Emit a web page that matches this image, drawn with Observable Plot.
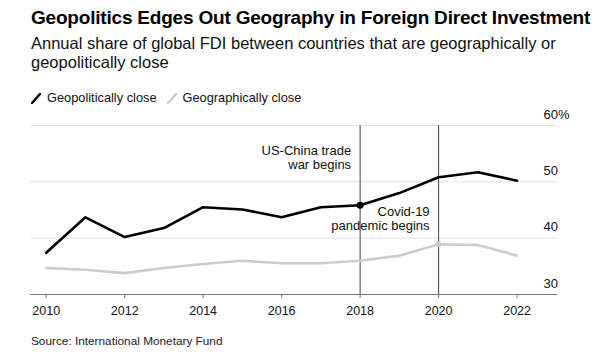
<!DOCTYPE html>
<html><head><meta charset="utf-8">
<script src="https://cdn.jsdelivr.net/npm/d3@7"></script>
<script src="https://cdn.jsdelivr.net/npm/@observablehq/plot@0.6"></script>
<style>
body{margin:0;background:#fff;font-family:"Liberation Sans",Arial,sans-serif;color:#000;width:602px;height:356px;overflow:hidden;position:relative}
#title{position:absolute;left:31px;top:7px;font-weight:bold;font-size:19px;line-height:22px;white-space:nowrap;letter-spacing:-0.2px;color:#000}
#subtitle{position:absolute;left:31px;top:34px;font-size:16.5px;line-height:19px;width:560px;color:#111}
#legend{position:absolute;left:31px;top:90px;font-size:12.8px;line-height:16px;display:flex;align-items:center;color:#111}
#legend svg{margin-right:6px}
#legend .item{display:flex;align-items:center;margin-right:10px}
#chart{position:absolute;left:0;top:105px}
#source{position:absolute;left:31px;top:334px;font-size:11.8px;color:#222}
</style></head>
<body>
<div id="title">Geopolitics Edges Out Geography in Foreign Direct Investment</div>
<div id="subtitle">Annual share of global FDI between countries that are geographically or geopolitically close</div>
<div id="legend"></div>
<div id="chart"></div>
<div id="source">Source: International Monetary Fund</div>
<script>
const years = [2010, 2011, 2012, 2013, 2014, 2015, 2016, 2017, 2018, 2019, 2020, 2021, 2022];
const geopolitical = [37.4, 43.7, 40.2, 41.8, 45.5, 45.1, 43.7, 45.5, 45.85, 48.0, 50.8, 51.7, 50.2];
const geographical = [34.7, 34.4, 33.8, 34.7, 35.4, 36.0, 35.55, 35.55, 36.0, 36.9, 38.9, 38.8, 36.9];
const seriesNames = ["Geopolitically close", "Geographically close"];
const seriesColors = ["#000000", "#cccccc"];
const yTicks = [30, 40, 50, 60];
const xTicks = [2010, 2012, 2014, 2016, 2018, 2020, 2022];
const eventYears = [2018, 2020];
const eventLabels = ["US-China trade\nwar begins", "Covid-19\npandemic begins"];
const eventLabelValues = [54.3, 43.5];

// legend
const legend = document.getElementById("legend");
seriesNames.forEach((name, i) => {
  const item = document.createElement("div");
  item.className = "item";
  item.innerHTML = `<svg width="10" height="11"><line x1="1" y1="10" x2="9" y2="1" stroke="${seriesColors[i]}" stroke-width="2.4" stroke-linecap="round"/></svg><span>${name}</span>`;
  legend.appendChild(item);
});

const geoPol = years.map((y, i) => ({year: y, value: geopolitical[i]}));
const geoGr = years.map((y, i) => ({year: y, value: geographical[i]}));
const events = eventYears.map((y, i) => ({year: y, label: eventLabels[i], v: eventLabelValues[i]}));

const chart = Plot.plot({
  width: 602,
  height: 220,
  marginLeft: 30,
  marginRight: 45,
  marginTop: 20,
  marginBottom: 31,
  x: {domain: [2009.6, 2023.03], label: null},
  y: {domain: [30, 60], label: null},
  style: {fontFamily: "'Liberation Sans', Arial, sans-serif", fontSize: "12.5px", color: "#111", background: "#fff"},
  marks: [
    Plot.gridY(yTicks, {stroke: "#e3e3e3", strokeOpacity: 1}),
    Plot.axisY(yTicks, {anchor: "right", label: null, tickSize: 0, tickPadding: 0, dx: -14, dy: -11, textAnchor: "start", fontSize: 13, tickFormat: d => d === 60 ? "60%" : String(d)}),
    Plot.ruleY([30], {stroke: "#777"}),
    Plot.axisX(xTicks, {label: null, tickSize: 4, tickPadding: 8, stroke: "#777", tickFormat: d => String(d), fontSize: 12.5}),
    Plot.ruleX(events, {x: "year", y1: 30, y2: 60, stroke: "#444", strokeWidth: 1}),
    Plot.line(geoGr, {x: "year", y: "value", stroke: seriesColors[1], strokeWidth: 2.6}),
    Plot.line(geoPol, {x: "year", y: "value", stroke: seriesColors[0], strokeWidth: 2.6}),
    Plot.dot(geoPol.filter(d => d.year === eventYears[0]), {x: "year", y: "value", r: 3.5, fill: seriesColors[0]}),
    Plot.dot(geoGr.filter(d => d.year === eventYears[1]), {x: "year", y: "value", r: 3, fill: seriesColors[1]}),
    Plot.text(events, {x: "year", y: "v", text: "label", textAnchor: "end", dx: -9, lineHeight: 1.06, fontSize: 13, fill: "#111"})
  ]
});
document.getElementById("chart").appendChild(chart);
</script>
</body></html>
